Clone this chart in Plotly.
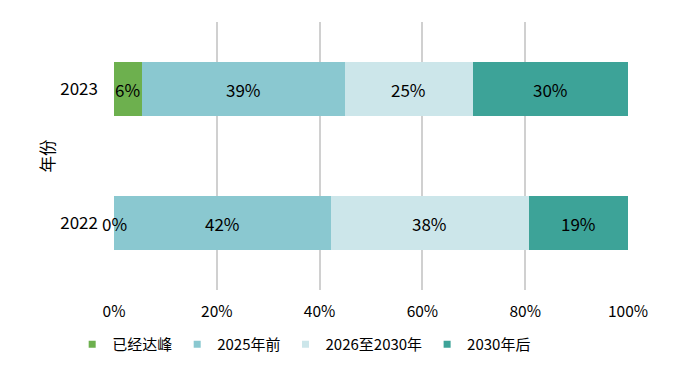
import plotly.graph_objects as go

years = ["2022", "2023"]
series_names = ["已经达峰", "2025年前", "2026至2030年", "2030年后"]
peaked = [0.0, 5.4]
before_2025 = [42.2, 39.5]
y2026_2030 = [38.5, 24.9]
after_2030 = [19.3, 30.2]
label_peaked = ["0%", "6%"]
label_before_2025 = ["42%", "39%"]
label_2026_2030 = ["38%", "25%"]
label_after_2030 = ["19%", "30%"]
x_ticks = [0, 20, 40, 60, 80, 100]
x_tick_labels = ["0%", "20%", "40%", "60%", "80%", "100%"]

colors = ["#6DB04E", "#8AC8D0", "#CCE6EA", "#3DA398"]
values = [peaked, before_2025, y2026_2030, after_2030]
labels = [label_peaked, label_before_2025, label_2026_2030, label_after_2030]

FONT = "Noto Sans CJK SC"

fig = go.Figure()
for name, vals, col in zip(series_names, values, colors):
    fig.add_trace(go.Bar(
        y=years, x=vals, name=name, orientation="h",
        marker=dict(color=col, line=dict(width=0)),
        showlegend=False, hoverinfo="skip",
    ))
    fig.add_trace(go.Scatter(
        x=[None], y=[None], mode="markers", name=name,
        marker=dict(symbol="square", size=7, color=col),
        showlegend=True,
    ))

annotations = []
for i, yr in enumerate(years):
    cum = 0.0
    for vals, labs in zip(values, labels):
        v = vals[i]
        annotations.append(dict(
            x=cum + v / 2, y=i, xref="x", yref="y", text=labs[i],
            showarrow=False, font=dict(family=FONT, size=17, color="#000000"),
        ))
        cum += v

fig.update_layout(
    barmode="stack",
    bargap=0.6,
    width=700, height=373,
    margin=dict(l=114, r=72, t=22, b=83, autoexpand=False),
    paper_bgcolor="white", plot_bgcolor="white",
    font=dict(family=FONT, size=16, color="#000000"),
    annotations=annotations,
    legend=dict(
        orientation="h", x=0.37, xanchor="center", y=-0.142, yanchor="top",
        font=dict(family=FONT, size=15, color="#000000"),
        itemwidth=30, traceorder="normal",
    ),
    xaxis=dict(
        range=[0, 100], tickvals=x_ticks, ticktext=x_tick_labels,
        showgrid=True, gridcolor="#D0D0D0", gridwidth=1.5,
        zeroline=False, showline=False, ticks="", ticklabelstandoff=10,
        tickfont=dict(family=FONT, size=15.5, color="#000000"),
    ),
    yaxis=dict(
        type="category",
        categoryorder="array", categoryarray=years,
        range=[-0.5, 1.5],
        showgrid=False, zeroline=False, showline=False, ticks="",
        ticklabelstandoff=15,
        tickfont=dict(family=FONT, size=17, color="#000000"),
        title=dict(text="年份", font=dict(family=FONT, size=16.5, color="#000000"), standoff=1),
    ),
)

fig.write_html("out.html", config={"displayModeBar": False},
               post_script="document.body.style.margin='0';")
